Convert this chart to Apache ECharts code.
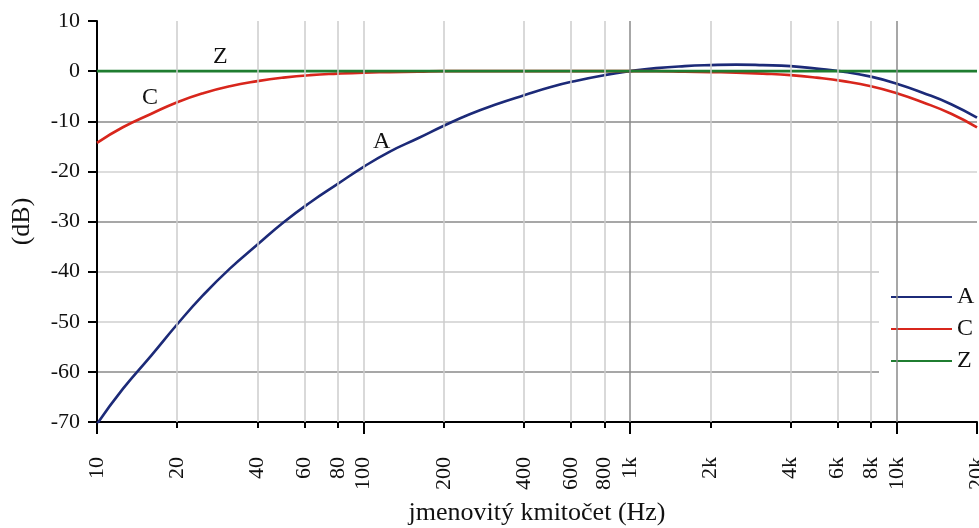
<!DOCTYPE html>
<html>
<head>
<meta charset="utf-8">
<script src="https://cdn.jsdelivr.net/npm/echarts@6/dist/echarts.min.js"></script>
<style>
  html, body { margin: 0; padding: 0; background: #fff; }
  #chart { width: 979px; height: 528px; }
</style>
</head>
<body>
<div id="chart"></div>
<script>
// nominal 1/3-octave frequencies (Hz)
const freqs = [10, 12.5, 16, 20, 25, 31.5, 40, 50, 63, 80, 100, 125, 160, 200, 250, 315, 400, 500, 630, 800,
  1000, 1250, 1600, 2000, 2500, 3150, 4000, 5000, 6300, 8000, 10000, 12500, 16000, 20000]
// weighting curves (dB)
const weightA = [-70.4, -63.4, -56.7, -50.5, -44.7, -39.4, -34.6, -30.2, -26.2, -22.5, -19.1, -16.1, -13.4, -10.9, -8.6, -6.6, -4.8, -3.2, -1.9, -0.8,
  0, 0.6, 1.0, 1.2, 1.3, 1.2, 1.0, 0.5, -0.1, -1.1, -2.5, -4.3, -6.6, -9.3]
const weightC = [-14.3, -11.2, -8.5, -6.2, -4.4, -3.0, -2.0, -1.3, -0.8, -0.5, -0.3, -0.2, -0.1, 0, 0, 0, 0, 0, 0, 0,
  0, 0, -0.1, -0.2, -0.3, -0.5, -0.8, -1.3, -2.0, -3.0, -4.4, -6.2, -8.5, -11.2]
const weightZ = [0, 0, 0, 0, 0, 0, 0, 0, 0, 0, 0, 0, 0, 0, 0, 0, 0, 0, 0, 0,
  0, 0, 0, 0, 0, 0, 0, 0, 0, 0, 0, 0, 0, 0]

// axis ticks and labels
const xLabelValues = [10, 20, 40, 60, 80, 100, 200, 400, 600, 800, 1000, 2000, 4000, 6000, 8000, 10000, 20000]
const xLabelTexts = ['10', '20', '40', '60', '80', '100', '200', '400', '600', '800', '1k', '2k', '4k', '6k', '8k', '10k', '20k']
const xMajorTicks = [10, 100, 1000, 10000, 20000]
const xGridValues = [20, 40, 60, 80, 100, 200, 400, 600, 800, 1000, 2000, 4000, 6000, 8000, 10000]
const xGridDark = [1000, 10000]

// curve name annotations: [freq, dB]
const nameSpots = { A: [117, -14], C: [15.8, -5.4], Z: [29, 2.8] }

const FONT = 'Liberation Serif'
const colors = { A: '#1c2a78', C: '#d8261c', Z: '#1f7d30' }

const chart = echarts.init(document.getElementById('chart'))

const curve = (name, values) => ({
  name,
  type: 'line',
  data: freqs.map((f, i) => [f, values[i]]),
  symbol: 'none',
  smooth: 0.5,
  z: 3,
  lineStyle: { color: colors[name], width: 2.6 },
  itemStyle: { color: colors[name] },
  markPoint: {
    symbol: 'circle',
    symbolSize: 0,
    silent: true,
    label: { show: true, position: 'inside', formatter: name, color: '#111', fontFamily: FONT, fontSize: 24 },
    data: [{ coord: nameSpots[name] }]
  }
})

const baseX = {
  type: 'log',
  logBase: 10,
  min: 10,
  max: 20000,
  position: 'bottom',
  splitLine: { show: false },
  minorTick: { show: false },
  minorSplitLine: { show: false }
}

const option = {
  animation: false,
  grid: { left: 97, right: 2, top: 21, bottom: 106, outerBoundsMode: 'none', containLabel: false },
  legend: {
    data: ['A', 'C', 'Z'],
    orient: 'vertical',
    left: 879,
    top: 268,
    backgroundColor: '#fff',
    padding: [17, 10, 19, 11],
    itemWidth: 61,
    itemHeight: 20,
    itemGap: 8,
    itemStyle: { opacity: 0 },
    textStyle: { fontFamily: FONT, fontSize: 24, color: '#111' }
  },
  xAxis: [
    {
      ...baseX,
      name: 'jmenovitý kmitočet (Hz)',
      nameLocation: 'middle',
      nameGap: 78,
      nameTextStyle: { fontFamily: FONT, fontSize: 26, color: '#111' },
      axisLine: { show: true, onZero: false, lineStyle: { color: '#000', width: 2 } },
      axisTick: { show: true, length: 6, customValues: xLabelValues, lineStyle: { color: '#000', width: 2 } },
      axisLabel: {
        show: true,
        customValues: xLabelValues,
        rotate: 90,
        margin: 35,
        fontFamily: FONT,
        fontSize: 22,
        color: '#111',
        formatter: (v) => {
          const i = xLabelValues.findIndex(x => Math.abs(x - v) < 1e-6 * x)
          return i >= 0 ? xLabelTexts[i] : ''
        }
      }
    },
    {
      ...baseX,
      axisLine: { show: false, onZero: false },
      axisTick: { show: true, length: 12, customValues: xMajorTicks, lineStyle: { color: '#000', width: 2 } },
      axisLabel: { show: false }
    }
  ],
  yAxis: {
    type: 'value',
    min: -70,
    max: 10,
    interval: 10,
    name: '(dB)',
    nameLocation: 'middle',
    nameGap: 62,
    nameTextStyle: { fontFamily: FONT, fontSize: 26, color: '#111' },
    axisLine: { show: true, lineStyle: { color: '#000', width: 2 } },
    axisTick: { show: true, length: 9, lineStyle: { color: '#000', width: 2 } },
    axisLabel: { margin: 17, fontFamily: FONT, fontSize: 22, color: '#111' },
    splitLine: {
      show: true,
      lineStyle: {
        width: 1.5,
        // -70 .. 10
        color: ['#888', '#8a8a8a', '#cfcfcf', '#c4c4c4', '#8a8a8a', '#d2d2d2', '#8a8a8a', '#8a8a8a', 'rgba(0,0,0,0)']
      }
    }
  },
  series: [
    {
      name: 'grid',
      type: 'line',
      data: [],
      z: 1,
      silent: true,
      markLine: {
        silent: true,
        symbol: 'none',
        label: { show: false },
        animation: false,
        data: xGridValues.map(f => ({
          xAxis: f,
          lineStyle: {
            type: 'solid',
            width: 1.5,
            color: xGridDark.includes(f) ? '#8a8a8a' : '#cdcdcd'
          }
        }))
      }
    },
    curve('A', weightA),
    curve('C', weightC),
    curve('Z', weightZ)
  ]
}

chart.setOption(option)
</script>
</body>
</html>
